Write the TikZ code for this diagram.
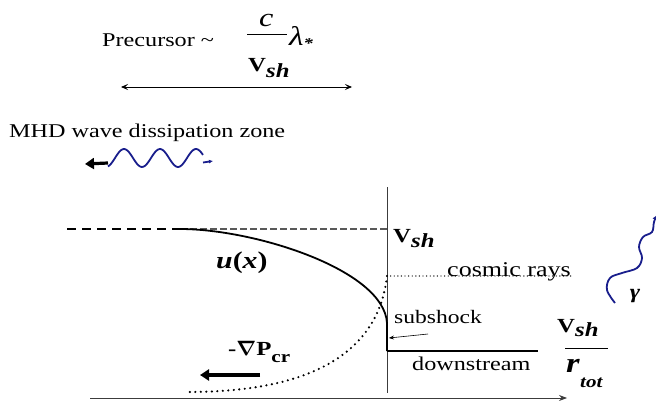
\documentclass[tikz,border=0pt]{standalone}
\usepackage{amsmath}
\usepackage{fontspec}
\setmainfont{Liberation Serif}[FakeStretch=1.24]
\usetikzlibrary{arrows.meta}
\definecolor{wavecol}{RGB}{25,30,140}
\definecolor{axiscol}{RGB}{60,60,60}
\tikzset{
  lbl/.style={inner sep=0pt,anchor=base west,font=\fontsize{19.5}{20}\selectfont},
  thinax/.style={draw=axiscol,line width=0.8pt},
  bigdots/.style={line width=2.4pt,line cap=round,dash pattern=on 0pt off 5.5pt},
  smalldots/.style={line width=1.4pt,line cap=round,dash pattern=on 0pt off 3.6pt},
  wave/.style={wavecol,line width=1.8pt},
  fatarrow/.style={line width=3.2pt,-{Triangle[length=9pt,width=11pt]}},
}
\newcommand\myvsh[1]{\fontsize{20}{20}\selectfont\bfseries V\raisebox{-#1}{\itshape sh}}
\begin{document}
\begin{tikzpicture}[x=1pt,y=-1pt]
\useasboundingbox (0,0) rectangle (656,401);
% precursor formula
\node[lbl] (prec) at (102,47) {Precursor \textasciitilde};
\node[lbl,font=\fontsize{26}{26}\selectfont\itshape] (c) at (259,27) {c};
\draw[line width=1pt] (247,35) -- (287,35);
\node[lbl] (vsh1) at (248,72) {\myvsh{6pt}};
\node[lbl,font=\fontsize{27}{27}\selectfont\itshape] (lam) at (289,46) {λ\raisebox{-3pt}{\fontsize{15}{15}\selectfont\bfseries *}};
\coordinate (pl) at (121,87);
\coordinate (pr) at (352,87);
\draw[line width=0.8pt,{Stealth[length=7pt,width=6pt,inset=3pt]}-{Stealth[length=7pt,width=6pt,inset=3pt]}] (pl) -- (pr);
% MHD
\node[lbl] (mhd) at (9,138) {MHD wave dissipation zone};
\coordinate (mw0) at (108,163);
\coordinate (mwa) at (85,164);
\draw[wave] plot[domain=108:203,samples=60] (\x,{158-9*sin(10*(\x-115))});
\draw[wave,-{Latex[length=4pt,width=4pt]}] (203,162.5) -- (213,161);
\draw[fatarrow] (mw0) -- (mwa);
% axes
\coordinate (xa0) at (90,398);
\coordinate (xa1) at (567,398);
\coordinate (ya0) at (387,187);
\coordinate (ya1) at (387,393);
\draw[thinax,-{Stealth[length=8pt,width=6pt]}] (xa0) -- (xa1);
\draw[thinax] (ya0) -- (ya1);
% upstream velocity dashed
\coordinate (d0) at (67,229);
\coordinate (d1) at (180,229);
\coordinate (d2) at (387,229);
\draw[line width=2pt,dash pattern=on 9pt off 6pt] (d0) -- (d1);
\draw[line width=1.2pt,draw=black!65,dash pattern=on 7pt off 3pt] (d1) -- (d2);
\node[lbl] (vsh2) at (393,242) {\myvsh{5pt}};
% u(x)
\coordinate (s0) at (387,323);
\coordinate (s1) at (387,351);
\coordinate (ds) at (538,351);
\draw[line width=1.8pt] (d1) .. controls (255,229) and (384,270) .. (s0) -- (s1);
\draw[line width=2.4pt] (s1) -- (ds);
\node[lbl,font=\fontsize{24}{24}\selectfont\bfseries\itshape] (ux) at (216,268) {u\textup{(}x\textup{)}};
% cosmic rays
\coordinate (cr0) at (387,276);
\coordinate (cr1) at (573,276);
\coordinate (cr2) at (188,392);
\draw[smalldots] (cr0) -- (cr1);
\node[lbl,font=\fontsize{21}{21}\selectfont] (crl) at (447,276) {cosmic rays};
\draw[bigdots] (cr0) .. controls (380,340) and (330,392) .. (cr2);
% subshock
\node[lbl,font=\fontsize{19}{19}\selectfont] (sub) at (394,323) {subshock};
\coordinate (sa) at (428,334);
\coordinate (sb) at (389,338);
\draw[line width=0.6pt,-{Stealth[length=5pt,width=4pt]}] (sa) -- (sb);
\node[lbl] (down) at (412,370) {downstream};
% V_sh / r_tot
\node[lbl] (vsh3) at (557,332) {\myvsh{4pt}};
\draw[line width=1pt] (565,348) -- (608,348);
\node[lbl,font=\fontsize{28}{28}\selectfont\bfseries\itshape] (rtot) at (566,372) {r};
\node[lbl,font=\fontsize{17}{17}\selectfont\bfseries\itshape] (tot) at (580,387) {tot};
% grad P
\node[lbl,font=\fontsize{20}{20}\selectfont\bfseries] (gp) at (228,355) {-$\boldsymbol{\nabla}$P\raisebox{-7pt}{\fontsize{17}{17}\selectfont cr}};
\coordinate (ga0) at (260,375);
\coordinate (ga1) at (200,375);
\draw[fatarrow] (ga0) -- (ga1);
% gamma photon
\draw[wave,-{Latex[length=5pt,width=5pt]}] plot[smooth,tension=0.6] coordinates {(615,303) (607,290) (610,278) (622,273) (637,268) (642,258) (639,247) (643,237) (652,232) (654,222) (657,215)};
\node[lbl,anchor=center,font=\fontsize{20}{20}\selectfont\bfseries\itshape] (gph) at (635,296) {γ};
\end{tikzpicture}
\end{document}
